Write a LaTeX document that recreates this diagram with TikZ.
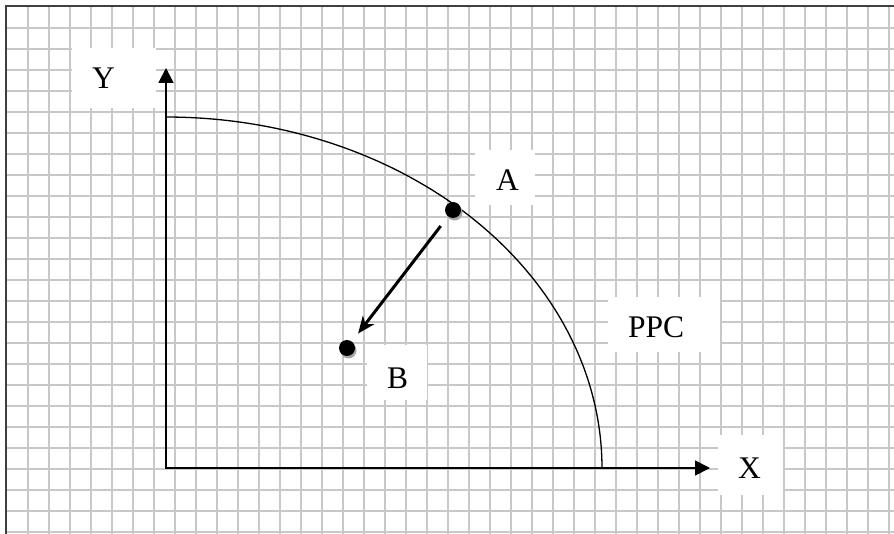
\documentclass[tikz,border=0pt]{standalone}
\usepackage{fontspec}
\setmainfont{Liberation Serif}
\usetikzlibrary{arrows.meta,shadows}
\definecolor{gridgray}{RGB}{200,200,200}
\definecolor{framegray}{RGB}{64,64,64}
\begin{document}
\begin{tikzpicture}[x=1pt,y=-1pt,
  gridline/.style={draw=gridgray,line width=1.8pt},
  frameline/.style={draw=framegray,line width=1.5pt},
  lbl/.style={fill=white,inner sep=0pt,anchor=west,align=left,
    font=\fontsize{31.5}{36}\selectfont,text depth=0pt},
  axisline/.style={line width=1.8pt},
  ppcline/.style={line width=1.3pt},
  dotnode/.style={circle,fill=black,minimum size=16pt,inner sep=0pt,
    drop shadow={shadow xshift=1.5pt,shadow yshift=-2.5pt,fill=gray!70,opacity=1}},
  moveline/.style={line width=3pt,-{Stealth[length=17pt,width=14pt,inset=5pt]},
    shorten <=12pt,shorten >=10pt}]
\useasboundingbox (0,0) rectangle (894,534);
\fill[white] (0,0) rectangle (894,534);
% grid
\foreach \i in {1,...,42} \draw[gridline] ({7.2+21*\i},6) -- ({7.2+21*\i},534);
\foreach \j in {1,...,25} \draw[gridline] (6,{7.2+21*\j}) -- (894,{7.2+21*\j});
\draw[frameline] (6,534) -- (6,6) -- (894,6);
% labels
\node[lbl,text width=84pt,minimum height=60pt,text height=21pt] (ylab) at (72,78) {\hspace*{20pt}Y};
\node[lbl,text width=60pt,minimum height=55pt,text height=26.5pt] (alab) at (475,177.5) {\hspace*{21pt}A};
\node[lbl,text width=60pt,minimum height=55pt,text height=32pt] (blab) at (367,372.5) {\hspace*{20pt}B};
\node[lbl,text width=112pt,minimum height=55pt,text height=26pt] (ppclab) at (608,324.5) {\hspace*{20pt}PPC};
\node[lbl,text width=65pt,minimum height=60pt,text height=26pt] (xlab) at (718,465) {\hspace*{20pt}X};
% axes
\coordinate (O) at (166,468);
\coordinate (ytip) at (166,68);
\coordinate (xtip) at (710,468);
\draw[axisline,{Triangle[length=15pt,width=15pt]}-{Triangle[length=15pt,width=15pt]}] (ytip) -- (O) -- (xtip);
% PPC curve
\draw[ppcline] plot[domain=0:90,samples=80,smooth] ({166+436*cos(\x)},{468-351*sin(\x)});
% points
\node[dotnode] (dotA) at (453,210) {};
\node[dotnode] (dotB) at (347,348) {};
\draw[moveline] (dotA) -- (dotB);
\end{tikzpicture}
\end{document}
